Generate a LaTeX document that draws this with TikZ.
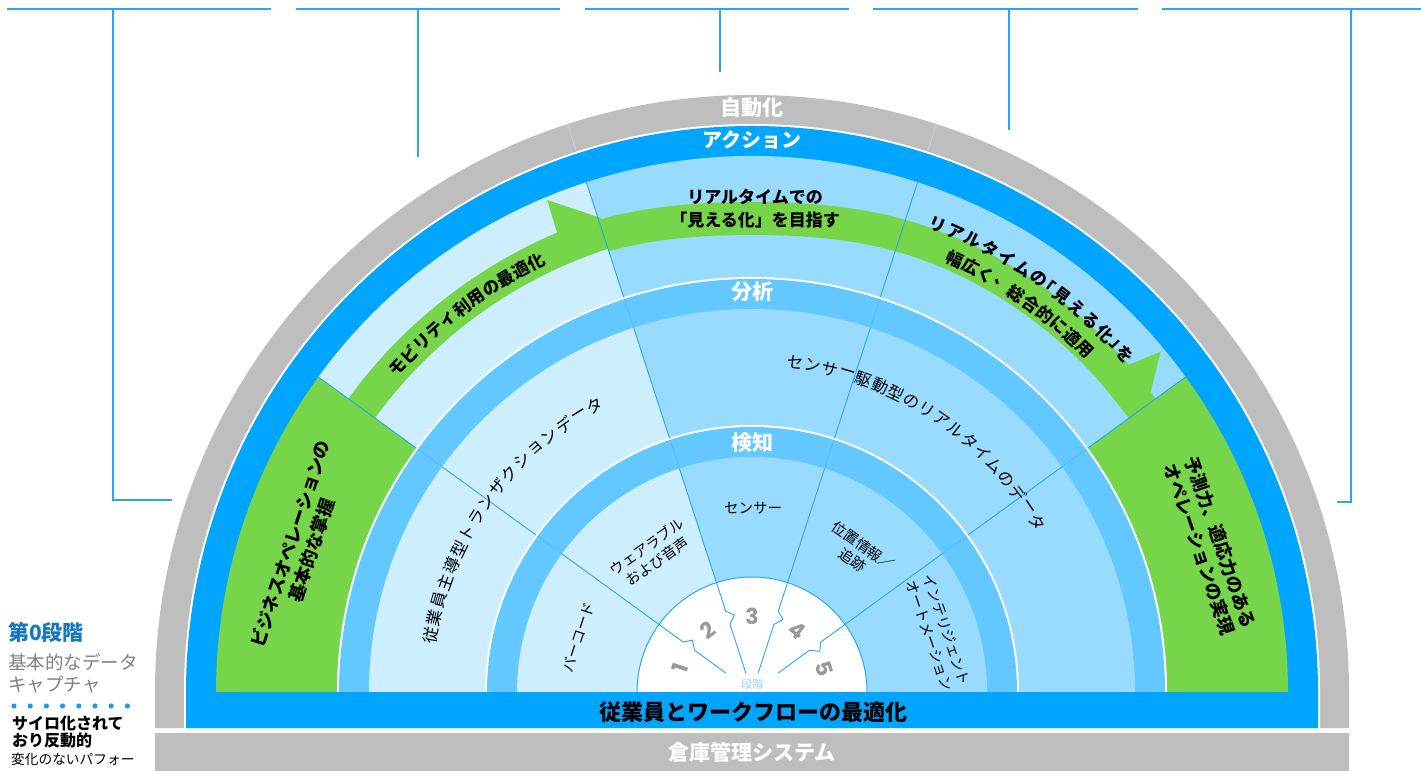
\documentclass[tikz,border=0pt]{standalone}
\usepackage{fontspec}
\setmainfont{Noto Sans CJK JP}
\newfontfamily\numfont{Poppins}
\definecolor{cgray}{HTML}{BEBEBE}
\definecolor{cblue}{HTML}{00A5FF}
\definecolor{cband}{HTML}{62C8FF}
\definecolor{clight}{HTML}{CCEEFF}
\definecolor{cmed}{HTML}{99DBFF}
\definecolor{cgreen}{HTML}{77D54A}
\definecolor{cline}{HTML}{2AA6EE}
\definecolor{cnum}{HTML}{999999}
\definecolor{cstage}{HTML}{9CD4F4}
\definecolor{clegend}{HTML}{1778C2}
\definecolor{ctext}{HTML}{808080}
\definecolor{cdot}{HTML}{1E9BE8}
\begin{document}
\begin{tikzpicture}[x=1pt,y=1pt,
  lbl/.style={font=\fontsize{21}{24}\selectfont\bfseries, text=white, inner sep=0},
  bandtxt/.style={font=\fontsize{17}{23}\selectfont\bfseries, inner sep=0},
  sectxt/.style={font=\fontsize{18}{22}\selectfont\bfseries, align=center, inner sep=0},
  midtxt/.style={font=\fontsize{16.5}{20}\selectfont, inner sep=0},
  intxt/.style={font=\fontsize{14.5}{18}\selectfont, align=center, inner sep=0},
  stnum/.style={font=\numfont\bfseries\fontsize{22}{26}\selectfont, text=cnum, inner sep=0},
  radline/.style={draw=cline, line width=0.9pt},
  leader/.style={draw=cline, line width=1.2pt},
  legtxt/.style={anchor=west, inner sep=0}]
\useasboundingbox (0,0) rectangle (1421,771);
\fill[white] (0,0) rectangle (1421,771);

% leader lines
\foreach \xa/\xb [count=\k] in {7/271,296/560,585/849,873/1138,1162/1421}{
  \coordinate (ha\k) at (\xa,762);
  \coordinate (hb\k) at (\xb,762);
  \draw[leader] (ha\k) -- (hb\k);
}
\coordinate (v1a) at (113,762); \coordinate (v1b) at (113,271); \coordinate (v1c) at (172,271);
\coordinate (v2a) at (418,762); \coordinate (v2b) at (418,614);
\coordinate (v3a) at (720,762); \coordinate (v3b) at (720,699);
\coordinate (v4a) at (1009,762); \coordinate (v4b) at (1009,641);
\coordinate (v5a) at (1351,762); \coordinate (v5b) at (1351,269); \coordinate (v5c) at (1337,269);
\draw[leader] (v1a) -- (v1b) -- (v1c);
\draw[leader] (v2a) -- (v2b);
\draw[leader] (v3a) -- (v3b);
\draw[leader] (v4a) -- (v4b);
\draw[leader] (v5a) -- (v5b) -- (v5c);

% bottom gray band
\fill[cgray] (155,0) rectangle (1349,38);
\node[lbl] (wms) at (752,19) {倉庫管理システム};

\begin{scope}[shift={(752,79)}]
  % outer rings
  \fill[cgray] (-597,-36) -- (180:597pt) arc[start angle=180,end angle=0,radius=597pt] -- (597,-36) -- cycle;
  \fill[white] (-568,-36) -- (180:568pt) arc[start angle=180,end angle=0,radius=568pt] -- (568,-36) -- cycle;
  \fill[cblue] (-566,-36) -- (180:566pt) arc[start angle=180,end angle=0,radius=566pt] -- (566,-36) -- cycle;
  \draw[white, opacity=0.3, line width=0.7pt] (108:568pt) -- (108:597pt) (72:568pt) -- (72:597pt);

  % action region
  \fill[cgreen] (0,0) -- (180:536pt) arc[start angle=180,end angle=144,radius=536pt] -- cycle;
  \fill[clight] (0,0) -- (144:536pt) arc[start angle=144,end angle=108,radius=536pt] -- cycle;
  \fill[cmed] (0,0) -- (108:536pt) arc[start angle=108,end angle=36,radius=536pt] -- cycle;
  \fill[cgreen] (0,0) -- (36:536pt) arc[start angle=36,end angle=0,radius=536pt] -- cycle;

  % green arrow bands
  \fill[cgreen] (150:466pt) arc[start angle=150,end angle=108,radius=466pt] -- (108:499pt) arc[start angle=108,end angle=150,radius=499pt] -- cycle;
  \fill[cgreen] plot[domain=108:36, samples=73] (\x:{466-9*exp(-((\x-90)/16)^2)})
     -- plot[domain=36:108, samples=73] (\x:{499-9*exp(-((\x-90)/16)^2)}) -- cycle;
  \fill[cgreen] (113:498pt) -- (112.6:533pt) -- (107.6:497pt) -- cycle;
  \fill[cgreen] (41:498pt) -- (39.8:532pt) -- (36:489pt) -- (36:466pt) -- (41:466pt) -- cycle;

  % analysis band
  \fill[white] (0,0) -- (180:415pt) arc[start angle=180,end angle=0,radius=415pt] -- cycle;
  \fill[cband] (0,0) -- (180:413pt) arc[start angle=180,end angle=0,radius=413pt] -- cycle;
  \fill[clight] (0,0) -- (180:383pt) arc[start angle=180,end angle=108,radius=383pt] -- cycle;
  \fill[cmed] (0,0) -- (108:383pt) arc[start angle=108,end angle=0,radius=383pt] -- cycle;

  % detection band
  \fill[white] (0,0) -- (180:267pt) arc[start angle=180,end angle=0,radius=267pt] -- cycle;
  \fill[cband] (0,0) -- (180:265pt) arc[start angle=180,end angle=0,radius=265pt] -- cycle;
  \fill[clight] (0,0) -- (180:235pt) arc[start angle=180,end angle=108,radius=235pt] -- cycle;
  \fill[cmed] (0,0) -- (108:235pt) arc[start angle=108,end angle=0,radius=235pt] -- cycle;

  % stage circle
  \fill[white] (0,0) -- (180:115pt) arc[start angle=180,end angle=0,radius=115pt] -- cycle;
  \draw[cline, line width=1pt] (180:115pt) arc[start angle=180,end angle=0,radius=115pt];

  % radial lines
  \foreach \a/\re in {144/32.3pt,108/20pt,72/20pt,36/32.3pt}{
    \draw[radline] (\a:115pt) -- (\a:235pt);
    \draw[radline, draw opacity=0.3] (\a:235pt) -- (\a:265pt);
    \draw[radline] (\a:267pt) -- (\a:383pt);
    \draw[radline, draw opacity=0.3] (\a:383pt) -- (\a:413pt);
    \draw[radline] (\a:415pt) -- (\a:536pt);
    \draw[radline] (\a:115pt) -- (\a:85pt) -- ({\a-5}:79pt) -- (\a:71pt) -- (\a:\re);
  }

  % ring labels
  \node[lbl] (zdk) at (0,584) {自動化};
  \node[lbl, font=\fontsize{20}{24}\selectfont\bfseries] (act) at (0,552) {アクション};
  \node[lbl] (bun) at (0,400) {分析};
  \node[lbl] (ken) at (0,249) {検知};
  \node[font=\fontsize{22}{26}\selectfont\bfseries, inner sep=0] (emp) at (1,-20) {従業員とワークフローの最適化};

  % band texts
  \foreach \c [count=\i from 0] in {モ,ビ,リ,テ,ィ,利,用,の,最,適,化}
    \node[bandtxt, rotate={47.5-2.09*\i}] (bm\i) at ({137.5-2.09*\i}:481pt) {\c};
  \node[bandtxt, align=center] (rt) at (3,483) {リアルタイムでの\\「見える化」を目指す};
  \foreach \c/\a [count=\i] in {リ/68.3,ア/66.12,ル/63.94,タ/61.76,イ/59.58,ム/57.4,の/55.22,「/54.13,見/51.95,え/49.77,る/47.59,化/45.41,」/43.23,を/42.14}
    \node[bandtxt, rotate={\a-90}] (ra\i) at (\a:503pt) {\c};
  \foreach \c [count=\i from 0] in {幅,広,く,、,総,合,的,に,適,用}
    \node[bandtxt, rotate={-25.1-2.12*\i}] (rb\i) at ({64.9-2.12*\i}:478pt) {\c};

  % green sector texts
  \node[sectxt, rotate=72] (gl) at (-451,145) {ビジネスオペレーションの\\基本的な掌握};
  \node[sectxt, rotate=-71] (gr) at (458,146) {予測力、適応力のある\\オペレーションの実現};

  % middle texts
  \foreach \c [count=\i from 0] in {従,業,員,主,導,型,ト,ラ,ン,ザ,ク,シ,ョ,ン,デ,ー,タ}
    \node[midtxt, rotate={80-3.2*\i}] (ml\i) at ({170-3.2*\i}:326pt) {\c};
  \foreach \c [count=\i from 0] in {セ,ン,サ,ー,駆,動,型,の,リ,ア,ル,タ,イ,ム,の,デ,ー,タ}
    \node[midtxt, rotate={-7.5-3.04*\i}] (mr\i) at ({82.5-3.04*\i}:332pt) {\c};

  % inner texts
  \node[intxt, rotate=72] (bc) at (-174,55) {バーコード};
  \node[intxt, rotate=35] (wr) at (-100,138) {ウェアラブル\\および音声};
  \node[intxt] (sn) at (1,184) {センサー};
  \node[intxt, rotate=-35] (ps) at (106,139) {位置情報／\\追跡};
  \node[intxt, rotate=-71] (ia) at (186,59) {インテリジェント\\オートメーション};

  % stage numbers
  \foreach \n/\a in {1/162,2/126,3/90,4/54,5/18}
    \node[stnum, rotate={\a-90}] (s\n) at (\a:76pt) {\n};
  \node[font=\fontsize{11}{13}\selectfont, text=cstage, inner sep=0] (dk) at (0,8) {段階};
\end{scope}

% legend
\node[legtxt, font=\fontsize{21}{24}\selectfont\bfseries, text=clegend] (lg1) at (8,139) {第0段階};
\node[legtxt, font=\fontsize{18.5}{22}\selectfont, text=ctext] (lg2) at (8,109) {基本的なデータ};
\node[legtxt, font=\fontsize{18.5}{22}\selectfont, text=ctext] (lg3) at (8,86) {キャプチャ};
\foreach \i in {0,...,7}
  \fill[cdot] ({14+16.2*\i},65) circle[radius=2.6pt];
\node[legtxt, font=\fontsize{16}{19}\selectfont\bfseries] (lg4) at (12,48) {サイロ化されて};
\node[legtxt, font=\fontsize{16}{19}\selectfont\bfseries] (lg5) at (12,31) {おり反動的};
\node[legtxt, font=\fontsize{13.7}{16}\selectfont] (lg6) at (11,12) {変化のないパフォー};
\end{tikzpicture}
\end{document}
